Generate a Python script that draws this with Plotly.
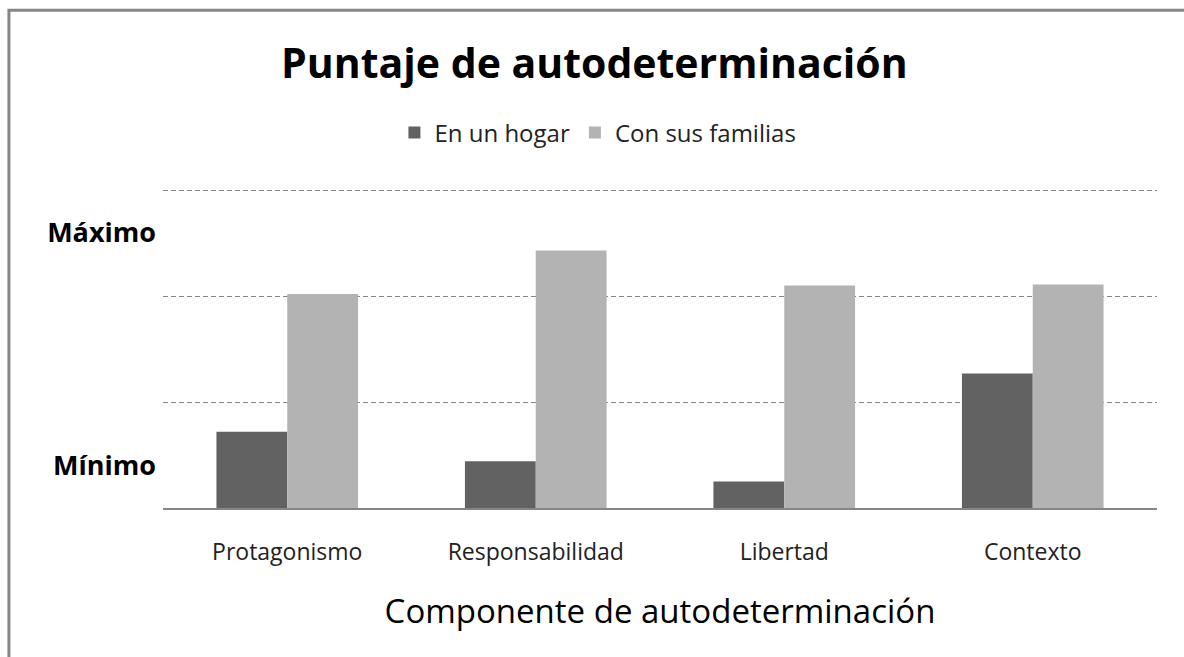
import plotly.graph_objects as go

categories = ["Protagonismo", "Responsabilidad", "Libertad", "Contexto"]
series_names = ["En un hogar", "Con sus familias"]
en_un_hogar = [0.72, 0.44, 0.25, 1.27]
con_sus_familias = [2.02, 2.43, 2.10, 2.11]
y_label_vals = [0.40, 2.60]
y_label_text = ["Mínimo", "Máximo"]
grid_vals = [1, 2, 3]

title_text = "Puntaje de autodeterminación"
x_title_text = "Componente de autodeterminación"

FONT = "Open Sans"
DARK = "#626262"
LIGHT = "#b3b3b3"
GRID = "#868686"

fig = go.Figure()
fig.add_trace(go.Bar(x=categories, y=en_un_hogar, name=series_names[0],
                     marker=dict(color=DARK, line=dict(width=0))))
fig.add_trace(go.Bar(x=categories, y=con_sus_familias, name=series_names[1],
                     marker=dict(color=LIGHT, line=dict(width=0))))

fig.update_layout(
    width=1184, height=657,
    margin=dict(l=163, r=27, t=189, b=149, pad=0),
    paper_bgcolor="white", plot_bgcolor="white",
    barmode="group", bargap=0.43, bargroupgap=0,
    font=dict(family=FONT, color="black"),
    title=dict(text=title_text, x=0.502, xref="container", xanchor="center",
               y=1 - 64 / 657, yref="container", yanchor="middle",
               font=dict(family=FONT, size=41, weight="bold", color="black")),
    legend=dict(orientation="h", x=0.505, xref="container", xanchor="center",
                y=1 - 133 / 657, yref="container", yanchor="middle",
                font=dict(family=FONT, size=24, color="#222"),
                itemwidth=30, traceorder="normal"),
    showlegend=True,
)

fig.update_xaxes(
    showline=True, linecolor=GRID, linewidth=2, showgrid=False,
    ticks="", ticklabelstandoff=22,
    tickfont=dict(family=FONT, size=23, color="#222"),
    title=dict(text=x_title_text, standoff=34,
               font=dict(family=FONT, size=33, color="black")),
)

fig.update_yaxes(
    range=[0, 3.01], showgrid=False, zeroline=False, showline=False,
    tickvals=y_label_vals, ticktext=y_label_text, ticks="",
    ticklabelstandoff=6,
    tickfont=dict(family=FONT, size=27, weight="bold", color="black"),
    minor=dict(tickvals=grid_vals, showgrid=True, gridcolor=GRID,
               gridwidth=1, griddash="5px,3px", ticks=""),
)

# outer chart frame (left and top edges visible)
fig.add_shape(type="path", xref="paper", yref="paper",
              path="M -0.155,-0.6 L -0.155,1.56 L 1.2,1.56",
              line=dict(color=GRID, width=3), layer="above")

fig.write_html("out.html", config={"displayModeBar": False},
               post_script="document.body.style.margin='0px';")
